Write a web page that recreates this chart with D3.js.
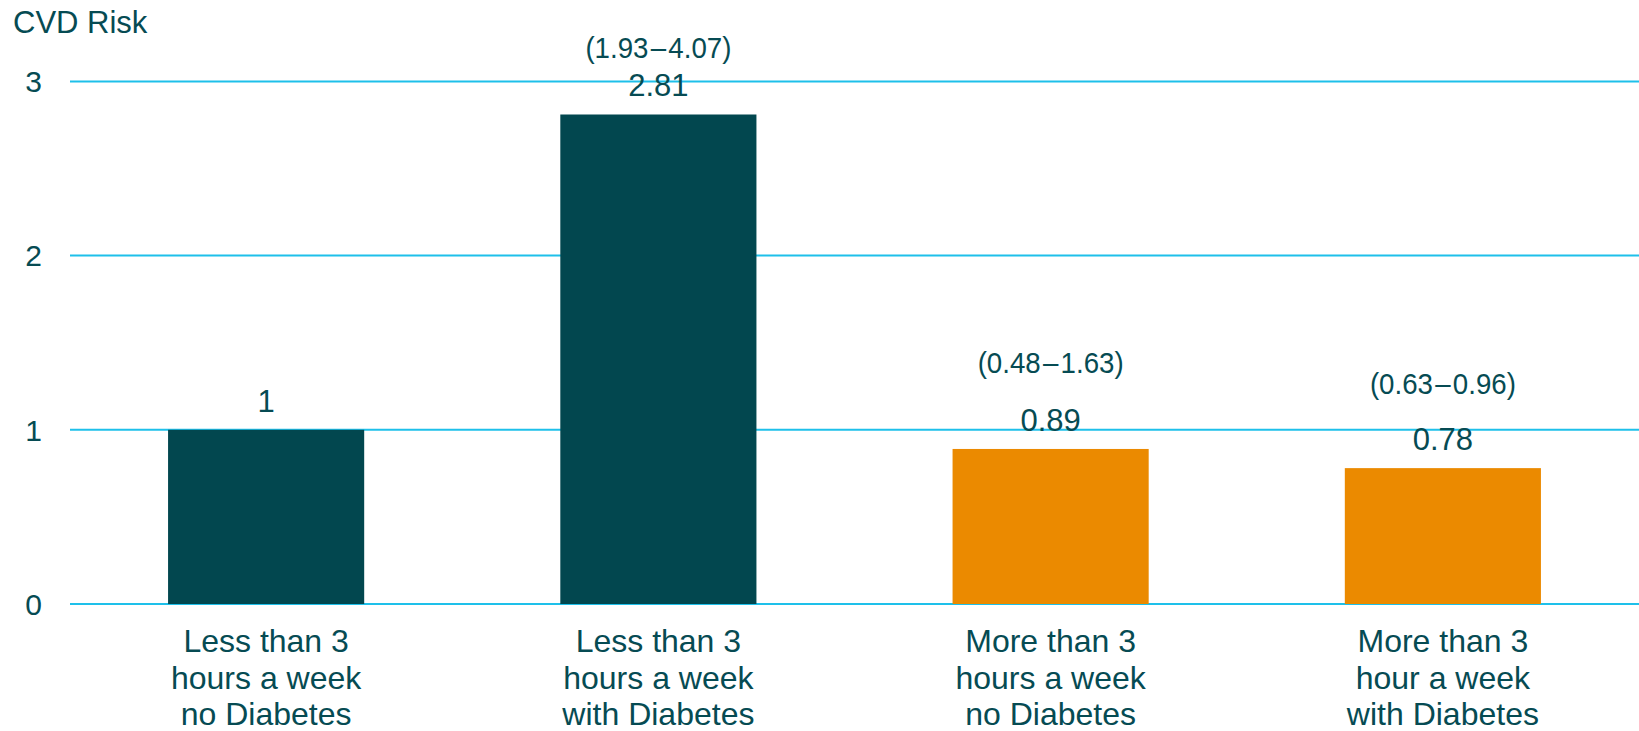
<!DOCTYPE html>
<html>
<head>
<meta charset="utf-8">
<script src="https://cdn.jsdelivr.net/npm/d3@7"></script>
<style>
  html, body { margin: 0; padding: 0; background: #ffffff; }
  svg { display: block; }
  text { font-family: "Liberation Sans", Arial, sans-serif; fill: #064b53; }
</style>
</head>
<body>
<svg id="chart" width="1639" height="731"></svg>
<script>
// Relative CVD risk by weekly activity and diabetes status
const categories = [
  ["Less than 3", "hours a week", "no Diabetes"],
  ["Less than 3", "hours a week", "with Diabetes"],
  ["More than 3", "hours a week", "no Diabetes"],
  ["More than 3", "hour a week", "with Diabetes"]
];
const riskValues = [1, 2.81, 0.89, 0.78];
const valueLabels = ["1", "2.81", "0.89", "0.78"];
const ciLabels = [null, "(1.93\u200A\u2013\u200A4.07)", "(0.48\u200A\u2013\u200A1.63)", "(0.63\u200A\u2013\u200A0.96)"];
const yTicks = [0, 1, 2, 3];

// Layout: how far each interval label sits above its value label
const ciLift = [0, 38, 58, 56];
const barColors = ["#02474f", "#02474f", "#eb8a00", "#eb8a00"];

const svg = d3.select("#chart");
const plotLeft = 70, plotRight = 1639, plotBottom = 604, plotTop = 81.4;

const x = d3.scaleBand()
  .domain(d3.range(categories.length))
  .range([plotLeft, plotRight])
  .paddingInner(0.5)
  .paddingOuter(0.25);

const y = d3.scaleLinear().domain([0, 3]).range([plotBottom, plotTop]);

const bars = riskValues.map((v, i) => ({
  i, value: v, label: valueLabels[i], ci: ciLabels[i], lift: ciLift[i], color: barColors[i]
}));

// Horizontal gridlines
svg.append("g")
  .selectAll("line")
  .data(yTicks)
  .join("line")
  .attr("x1", plotLeft)
  .attr("x2", plotRight)
  .attr("y1", d => y(d))
  .attr("y2", d => y(d))
  .attr("stroke", "#1ec0ea")
  .attr("stroke-width", 2);

// Y axis tick labels
svg.append("g")
  .selectAll("text")
  .data(yTicks)
  .join("text")
  .attr("x", 42)
  .attr("y", d => y(d))
  .attr("dy", "0.36em")
  .attr("text-anchor", "end")
  .style("font-size", "30px")
  .text(d => d);

// Axis title
svg.append("text")
  .attr("x", 13)
  .attr("y", 33)
  .style("font-size", "31px")
  .text("CVD Risk");

// Bars
svg.append("g")
  .selectAll("rect")
  .data(bars)
  .join("rect")
  .attr("x", d => x(d.i))
  .attr("width", x.bandwidth())
  .attr("y", d => y(d.value))
  .attr("height", d => y(0) - y(d.value))
  .attr("fill", d => d.color);

// Value labels
svg.append("g")
  .selectAll("text")
  .data(bars)
  .join("text")
  .attr("x", d => x(d.i) + x.bandwidth() / 2)
  .attr("y", d => y(d.value) - 18)
  .attr("text-anchor", "middle")
  .style("font-size", "31px")
  .text(d => d.label);

// Confidence interval labels, set in a slightly condensed width
svg.append("g")
  .selectAll("text")
  .data(bars.filter(d => d.ci !== null))
  .join("text")
  .attr("x", d => x(d.i) + x.bandwidth() / 2)
  .attr("y", d => y(d.value) - 18 - d.lift)
  .attr("text-anchor", "middle")
  .attr("textLength", 146)
  .attr("lengthAdjust", "spacingAndGlyphs")
  .style("font-size", "30px")
  .text(d => d.ci);

// Category labels, three lines each
const cat = svg.append("g")
  .selectAll("text")
  .data(categories)
  .join("text")
  .attr("x", (d, i) => x(i) + x.bandwidth() / 2)
  .attr("y", 652)
  .attr("text-anchor", "middle")
  .style("font-size", "32px");

cat.selectAll("tspan")
  .data(d => d)
  .join("tspan")
  .attr("x", function () { return d3.select(this.parentNode).attr("x"); })
  .attr("dy", (d, j) => j === 0 ? 0 : 36.5)
  .text(d => d);
</script>
</body>
</html>
